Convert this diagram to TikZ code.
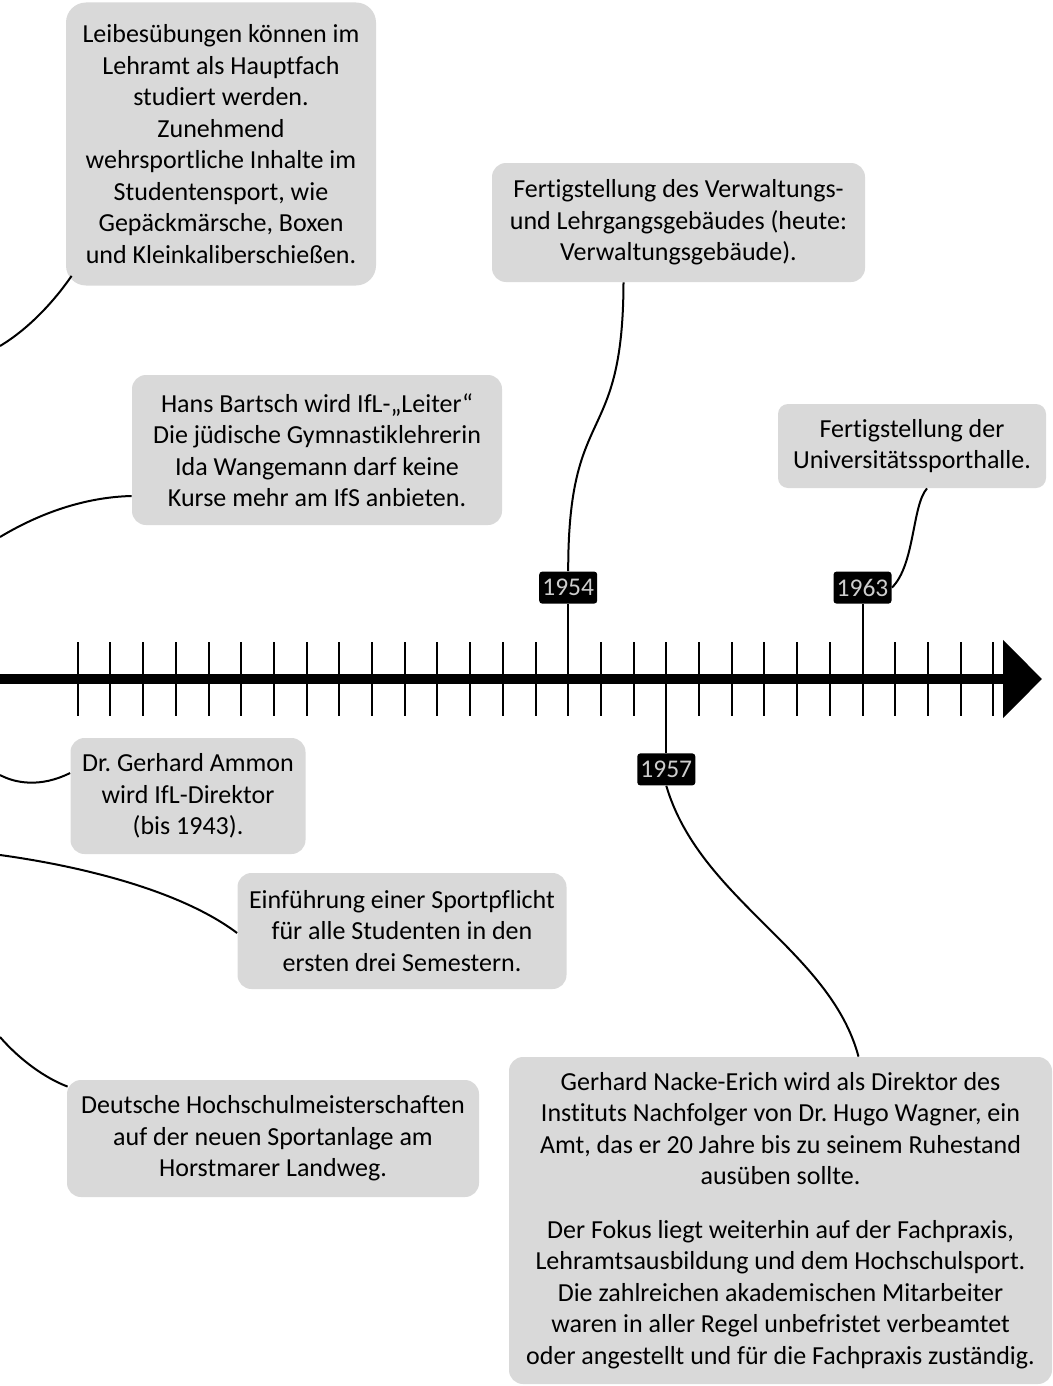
\documentclass[tikz,border=0pt]{standalone}
\usepackage{fontspec}
\setmainfont{Carlito}[Ligatures={TeX,NoCommon}]
\usetikzlibrary{positioning,arrows.meta}
\definecolor{boxgray}{RGB}{217,217,217}
\definecolor{yeartext}{RGB}{205,205,205}
\frenchspacing

\begin{document}
\begin{tikzpicture}[x=1pt,y=-1pt,thick,
    event node/.style={fill=boxgray,rounded corners=14pt,align=center,inner sep=0pt,font=\fontsize{26}{31.5}\selectfont},
    year node/.style={fill=black,text=yeartext,rounded corners=3pt,inner sep=0pt,minimum width=58pt,minimum height=32pt,font=\fontsize{25.5}{30}\selectfont},
    link/.style={line width=2pt},
    tick line/.style={line width=2pt}]
  \useasboundingbox (0,0) rectangle (1052,1386);

  % time axis
  \coordinate (axstart) at (0,679);
  \coordinate (axend) at (1042,679);
  \draw[line width=10pt,-{Triangle[length=39pt,width=76pt]}] (axstart) -- (axend);
  \foreach \k in {0,...,28} {
    \coordinate (up\k) at ({77.7+32.7*\k},642);
    \coordinate (dn\k) at ({77.7+32.7*\k},716);
    \draw[tick line] (up\k) -- (dn\k);
  }

  % years
  \node[year node,above=38pt of up15] (y1954) {1954};
  \node[year node,above=38pt of up24] (y1963) {1963};
  \node[year node,below=37pt of dn18] (y1957) {1957};
  \draw[link] (y1954) -- (up15);
  \draw[link] (y1963) -- (up24);
  \draw[link] (y1957) -- (dn18);

  % events
  \node[event node,minimum width=310pt,minimum height=283pt,rounded corners=20pt] (leibes) at (221,144)
    {Leibesübungen können im\\Lehramt als Hauptfach\\studiert werden.\\Zunehmend\\wehrsportliche Inhalte im\\Studentensport, wie\\Gepäckmärsche, Boxen\\und Kleinkaliberschießen.};
  \node[event node,minimum width=370pt,minimum height=150pt] (bartsch) at (317,450)
    {Hans Bartsch wird IfL-„Leiter“\\Die jüdische Gymnastiklehrerin\\Ida Wangemann darf keine\\Kurse mehr am IfS anbieten.};
  \node[event node,minimum width=373pt,minimum height=119pt] (verw) at (678.5,222.5)
    {Fertigstellung des Verwaltungs-\\und Lehrgangsgebäudes (heute:\\Verwaltungsgebäude).};
  \node[event node,minimum width=268pt,minimum height=84pt,rounded corners=10pt] (halle) at (912,446)
    {Fertigstellung der\\Universitätssporthalle.};
  \node[event node,minimum width=235pt,minimum height=116pt] (ammon) at (188,796)
    {Dr. Gerhard Ammon\\wird IfL-Direktor\\(bis 1943).};
  \node[event node,minimum width=329pt,minimum height=116pt] (einf) at (402,931)
    {Einführung einer Sportpflicht\\für alle Studenten in den\\ersten drei Semestern.};
  \node[event node,minimum width=412pt,minimum height=117pt] (deutsche) at (273,1138.5)
    {Deutsche Hochschulmeisterschaften\\auf der neuen Sportanlage am\\Horstmarer Landweg.};
  \node[event node,minimum width=543pt,minimum height=327pt] (nacke) at (780.5,1220.5)
    {Gerhard Nacke-Erich wird als Direktor des\\Instituts Nachfolger von Dr. Hugo Wagner, ein\\Amt, das er 20 Jahre bis zu seinem Ruhestand\\ausüben sollte.\\[22pt]Der Fokus liegt weiterhin auf der Fachpraxis,\\Lehramtsausbildung und dem Hochschulsport.\\Die zahlreichen akademischen Mitarbeiter\\waren in aller Regel unbefristet verbeamtet\\oder angestellt und für die Fachpraxis zuständig.};

  % connectors
  \coordinate (l1) at (0,346);
  \coordinate (l2) at (0,537);
  \coordinate (l3) at (0,775);
  \coordinate (l4) at (0,855);
  \coordinate (l5) at (0,1037);
  \draw[link] (y1954.north) .. controls (568,400) and (623,450) .. ([xshift=-55pt]verw.south);
  \draw[link] (y1963.east) .. controls (915,565) and (912,505) .. ([xshift=15pt]halle.south);
  \draw[link] (y1957.south) .. controls (700,900) and (830,950) .. ([xshift=78pt]nacke.north);
  \draw[link] (l1) .. controls (30,328) and (55,300) .. ([shift={(6pt,10pt)}]leibes.south west);
  \draw[link] (l2) .. controls (45,510) and (90,497) .. ([yshift=-46pt]bartsch.west);
  \draw[link] (l3) .. controls (15,783) and (40,788) .. ([yshift=23pt]ammon.west);
  \draw[link] (l4) .. controls (80,866) and (180,890) .. ([yshift=-2pt]einf.west);
  \draw[link] (l5) .. controls (20,1060) and (45,1078) .. ([shift={(1pt,-7pt)}]deutsche.north west);
\end{tikzpicture}
\end{document}
